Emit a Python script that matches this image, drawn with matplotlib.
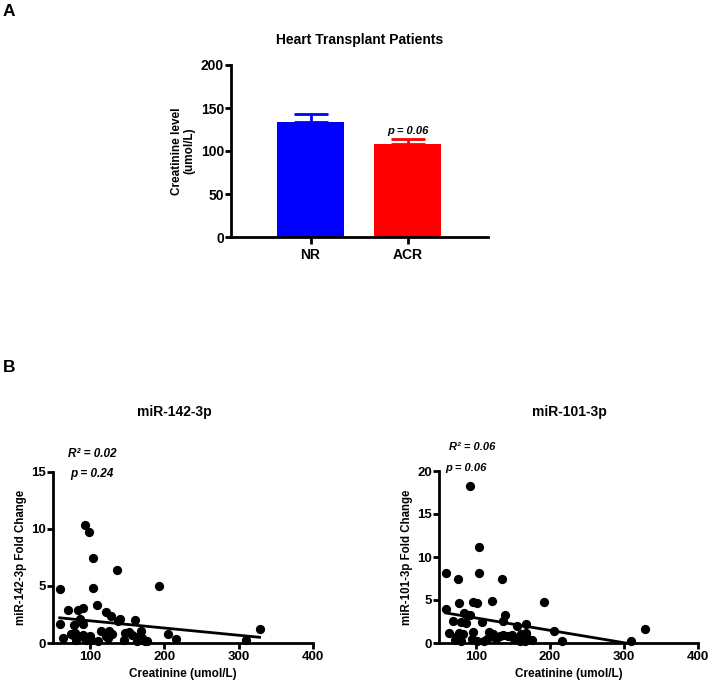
import matplotlib
matplotlib.use("Agg")
import matplotlib.pyplot as plt
import numpy as np

plt.rcParams['font.family'] = ['Liberation Sans', 'DejaVu Sans']
plt.rcParams['font.weight'] = 'bold'

# ---------------- data ----------------
groups = ["NR", "ACR"]
creat_means = [134, 108]
creat_sem = [8.5, 5.5]
bar_colors = ["#0000FF", "#FF0000"]

mir142_x = [59, 59, 64, 70, 74, 78, 80, 83, 86, 90, 91, 93, 98, 104, 104, 109, 136, 193,
            122, 128, 140, 138, 160, 205, 216, 310, 328,
            77, 81, 84, 89, 91, 95, 96, 100, 101, 111, 114, 121, 124, 126, 130, 145, 147,
            152, 156, 163, 166, 168, 170, 174, 176]
mir142_y = [4.75, 1.7, 0.45, 2.85, 0.8, 1.6, 0.9, 2.85, 2.1, 1.7, 3.1, 10.35, 9.75, 7.4, 4.85, 3.35, 6.4, 4.95,
            2.75, 2.4, 2.1, 1.9, 2.0, 0.8, 0.35, 0.3, 1.2,
            0.73, 0.26, 0.56, 0.59, 0.7, 0.26, 0.5, 0.64, 0.26, 0.15, 1.08, 0.64, 0.44, 1.08, 0.79, 0.26, 0.85,
            0.94, 0.73, 0.2, 0.64, 1.08, 0.44, 0.2, 0.15]
fit142_x = [59, 328]
fit142_y = [2.2, 0.5]

mir101_x = [59, 59, 64, 69, 76, 77, 77, 80, 84, 86, 88, 92, 92, 96, 101, 104, 104, 108, 122, 135,
            139, 137, 155, 167, 192, 205, 216, 309, 328,
            71, 73.5, 79.5, 82, 96, 94.5, 101, 111, 114.5, 118, 123.6, 127, 132, 136, 143, 149, 152,
            159, 161, 166, 168, 170.5, 175]
mir101_y = [8.15, 4.0, 1.2, 2.6, 7.5, 4.7, 1.2, 2.5, 3.5, 2.3, 3.3, 18.2, 3.3, 4.75, 4.6, 11.2, 8.15, 2.5, 4.9, 7.5,
            3.3, 2.6, 1.95, 2.2, 4.75, 1.45, 0.25, 0.2, 1.65,
            0.35, 0.66, 0.27, 1.05, 1.25, 0.47, 0.27, 0.2, 0.47, 1.25, 1.05, 0.47, 0.86, 0.98, 0.86, 0.98, 0.47,
            0.27, 1.05, 0.27, 1.13, 0.47, 0.35]
fit101_x = [59, 328]
fit101_y = [3.5, -0.37]

W, H = 710, 684
fig = plt.figure(figsize=(W / 100, H / 100), dpi=100)


def ax_px(left, top, right, bottom):
    return fig.add_axes([left / W, 1 - bottom / H, (right - left) / W, (bottom - top) / H])


def ftext(x, y, s, **kw):
    fig.text(x / W, 1 - y / H, s, **kw)


def style(ax, size=9.5):
    for s in ["top", "right"]:
        ax.spines[s].set_visible(False)
    for s in ["left", "bottom"]:
        ax.spines[s].set_linewidth(2.0)
    ax.tick_params(direction="out", length=4, width=2, labelsize=size, pad=1)
    for lab in ax.get_xticklabels() + ax.get_yticklabels():
        lab.set_fontweight("bold")


# ---------------- Panel A ----------------
axA = ax_px(231, 65, 488, 237)
xpos = np.arange(len(groups))
axA.bar(xpos, creat_means, width=0.69, color=bar_colors, zorder=2)
for i in range(len(groups)):
    axA.errorbar(xpos[i], creat_means[i], yerr=[[0], [creat_sem[i]]], color=bar_colors[i],
                 capsize=12, capthick=2, elinewidth=2, zorder=1)
axA.set_xlim(-0.82, 1.83)
axA.set_ylim(0, 200)
axA.set_yticks([0, 50, 100, 150, 200])
axA.set_xticks(xpos)
axA.set_xticklabels(groups)
style(axA, 10)
axA.tick_params(axis="x", length=5, pad=3)
axA.text(1, creat_means[1] + creat_sem[1] + 4, "p = 0.06", ha="center", va="bottom",
         fontsize=8, fontweight="bold", style="italic")
ftext(360, 40, "Heart Transplant Patients", ha="center", va="center", fontsize=10, fontweight="bold")
ftext(183, 151, "Creatinine level\n(umol/L)", ha="center", va="center", rotation=90,
      fontsize=8.5, fontweight="bold", linespacing=1.1)

# ---------------- Panel B left ----------------
axL = ax_px(53, 471.5, 313, 643)
axL.scatter(mir142_x, mir142_y, s=32, color="black", zorder=3, clip_on=False)
axL.plot(fit142_x, fit142_y, color="black", lw=2)
axL.set_xlim(50, 400)
axL.set_ylim(0, 15)
axL.set_xticks([100, 200, 300, 400])
axL.set_yticks([0, 5, 10, 15])
style(axL)
axL.tick_params(axis="x", pad=2)
axL.set_xlabel("Creatinine (umol/L)", fontsize=8.5, fontweight="bold", labelpad=3)
axL.set_ylabel("miR-142-3p Fold Change", fontsize=8.3, fontweight="bold", labelpad=3)
ftext(174, 412, "miR-142-3p", ha="center", va="center", fontsize=10, fontweight="bold")
ftext(92, 454, "R\u00b2 = 0.02", ha="center", va="center", fontsize=8.5,
      fontweight="bold", style="italic")
ftext(92, 474, "p = 0.24", ha="center", va="center", fontsize=8.5, fontweight="bold", style="italic")

# ---------------- Panel B right ----------------
axR = ax_px(439, 471, 698, 643)
axR.scatter(mir101_x, mir101_y, s=32, color="black", zorder=3, clip_on=False)
axR.plot(fit101_x, fit101_y, color="black", lw=2)
axR.set_xlim(50, 400)
axR.set_ylim(0, 20)
axR.set_xticks([100, 200, 300, 400])
axR.set_yticks([0, 5, 10, 15, 20])
style(axR)
axR.tick_params(axis="x", pad=2)
axR.set_xlabel("Creatinine (umol/L)", fontsize=8.5, fontweight="bold", labelpad=3)
axR.set_ylabel("miR-101-3p Fold Change", fontsize=8.3, fontweight="bold", labelpad=3)
ftext(569, 412, "miR-101-3p", ha="center", va="center", fontsize=10, fontweight="bold")
ftext(472, 447, "R\u00b2 = 0.06", ha="center", va="center", fontsize=8,
      fontweight="bold", style="italic")
ftext(466, 468, "p = 0.06", ha="center", va="center", fontsize=8, fontweight="bold", style="italic")

# panel letters
ftext(3, 11, "A", ha="left", va="center", fontsize=12.5, fontweight="bold")
ftext(3, 368, "B", ha="left", va="center", fontsize=12.5, fontweight="bold")

fig.savefig("out.png", dpi=100, facecolor="white")
